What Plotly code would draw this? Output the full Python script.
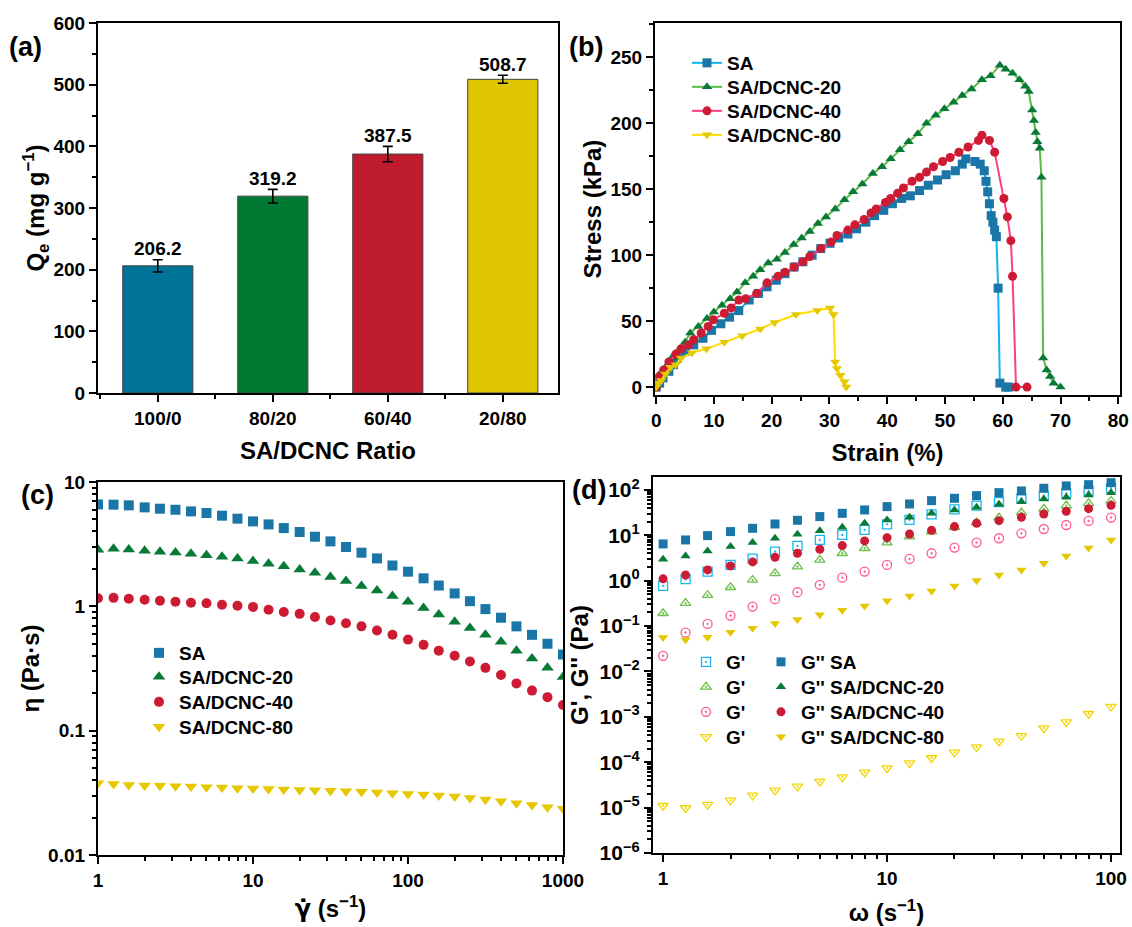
import plotly.graph_objects as go

FONT = "Liberation Sans"
W, H = 1132, 927

# ---------------- (a) adsorption capacity ----------------
ratio_labels = ["100/0", "80/20", "60/40", "20/80"]
qe_values = [206.2, 319.2, 387.5, 508.7]
qe_errors = [10, 11, 12.5, 6.5]
bar_colors = ["#007399", "#007A33", "#BE1B2D", "#DEC600"]

# ---------------- (b) stress-strain ----------------
series_names = ["SA", "SA/DCNC-20", "SA/DCNC-40", "SA/DCNC-80"]

strain_sa = [0, 0.6, 1.2, 2.2, 3.0, 3.7, 5.0, 6.5, 8.1, 9.6, 11.2, 12.7, 14.3, 16.1, 17.7, 19.2, 20.8, 22.3,
             23.9, 25.4, 27.0, 28.5, 30.1, 31.6, 33.2, 34.7, 36.3, 37.8, 39.4, 40.9, 42.5, 44.0, 45.6, 47.1,
             48.7, 50.2, 51.8, 53.0, 53.6, 55.2, 56.1, 56.8, 57.1, 57.4, 57.7, 58.0, 58.3, 58.6, 58.9, 59.2,
             59.5, 60.5, 61.0]
stress_sa = [0, 3, 7, 12, 17, 22, 27, 32, 37, 43, 48, 53, 58, 66, 71, 76, 81, 86, 91, 95, 100, 105, 109,
             113, 116, 120, 125, 130, 134, 139, 143, 145, 149, 153, 157, 161, 164, 169, 173, 171, 169, 164,
             156, 148, 139, 130, 125, 119, 114, 75, 3, 0, 0]

strain_20 = [0, 0.4, 1.6, 2.7, 3.9, 5.0, 5.9, 7.3, 8.8, 10.0, 11.4, 12.8, 14.0, 15.4, 16.8, 18.0, 19.4, 20.9,
             22.3, 23.8, 25.2, 26.6, 28.0, 29.4, 31.0, 32.6, 34.1, 35.7, 37.5, 39.1, 40.6, 42.2, 43.7, 45.3,
             46.8, 48.4, 49.9, 51.5, 53.0, 54.6, 56.4, 57.9, 59.5, 60.5, 61.7, 62.9, 63.9, 64.5, 65.1, 65.4,
             65.7, 66.0, 66.4, 66.7, 67.0, 67.6, 68.2, 68.8, 70.0]
stress_20 = [0, 9, 15, 22, 28, 34, 41, 46, 52, 57, 62, 67, 72, 79, 84, 89, 94, 97, 102, 108, 113, 118, 124,
             129, 135, 142, 148, 154, 162, 167, 173, 180, 186, 192, 200, 206, 211, 216, 221, 226, 233, 236,
             244, 241, 238, 233, 228, 224, 210, 202, 193, 186, 181, 159, 22, 13, 8, 3, 0]

strain_40 = [0, 0.6, 1.3, 2.2, 3.4, 4.3, 5.6, 6.5, 7.8, 9.0, 9.9, 11.8, 13.0, 14.3, 15.5, 17.4, 19.2, 21.1,
             22.3, 23.9, 25.4, 26.6, 28.5, 30.3, 31.3, 33.2, 34.4, 36.0, 37.2, 38.1, 39.7, 40.6, 41.8, 42.8,
             44.3, 45.6, 46.8, 48.0, 49.6, 50.9, 52.4, 54.0, 55.8, 56.4, 57.7, 58.6, 60.2, 60.8, 61.4, 61.7,
             62.3, 64.2]
stress_40 = [0, 8, 13, 19, 25, 29, 32, 36, 41, 46, 51, 56, 60, 66, 67, 71, 79, 84, 87, 91, 95, 99, 105, 110,
             115, 119, 123, 127, 132, 135, 140, 143, 147, 151, 156, 159, 163, 167, 171, 174, 178, 182, 187,
             191, 187, 178, 143, 129, 111, 84, 0, 0]

strain_80 = [0, 0.3, 0.9, 1.6, 2.5, 3.4, 4.3, 6.2, 8.7, 11.8, 14.9, 18.0, 20.5, 24.2, 27.9, 30.1, 30.7, 31.0,
             31.3, 31.9, 32.6, 32.9]
stress_80 = [0, 3, 5, 10, 15, 17, 22, 26, 29, 34, 39, 44, 49, 55, 58, 60, 55, 19, 14, 9, 4, 0]

# ---------------- (c) viscosity vs shear rate ----------------
shear_rate = [1, 1.26, 1.58, 2, 2.51, 3.16, 3.98, 5.01, 6.31, 7.94, 10, 12.6, 15.8, 20, 25.1, 31.6, 39.8,
              50.1, 63.1, 79.4, 100, 126, 158, 200, 251, 316, 398, 501, 631, 794, 1000]
eta_sa = [6.6, 6.57, 6.49, 6.25, 6.10, 5.98, 5.80, 5.63, 5.36, 5.07, 4.82, 4.56, 4.26, 3.96, 3.63, 3.33,
          3.00, 2.70, 2.43, 2.13, 1.90, 1.68, 1.47, 1.27, 1.10, 0.95, 0.81, 0.69, 0.59, 0.50, 0.41]
eta_20 = [2.85, 2.90, 2.87, 2.80, 2.75, 2.71, 2.65, 2.57, 2.51, 2.42, 2.31, 2.20, 2.10, 1.98, 1.86, 1.72,
          1.60, 1.46, 1.34, 1.21, 1.09, 0.97, 0.86, 0.75, 0.67, 0.59, 0.52, 0.44, 0.38, 0.32, 0.27]
eta_40 = [1.16, 1.17, 1.15, 1.13, 1.11, 1.09, 1.07, 1.06, 1.03, 1.01, 0.99, 0.94, 0.90, 0.87, 0.82, 0.77,
          0.73, 0.69, 0.64, 0.59, 0.54, 0.49, 0.44, 0.40, 0.36, 0.32, 0.28, 0.24, 0.21, 0.186, 0.161]
eta_80 = [0.0378, 0.0373, 0.0366, 0.0362, 0.0360, 0.0357, 0.0355, 0.0351, 0.0349, 0.0344, 0.0342, 0.0340,
          0.0336, 0.0334, 0.0332, 0.0328, 0.0326, 0.0322, 0.0318, 0.0314, 0.0310, 0.0306, 0.0301, 0.0295,
          0.0288, 0.0279, 0.0271, 0.0261, 0.0253, 0.0242, 0.0235]

# ---------------- (d) moduli vs angular frequency ----------------
omega = [1, 1.26, 1.58, 2, 2.51, 3.16, 3.98, 5.01, 6.31, 7.94, 10, 12.6, 15.8, 20, 25.1, 31.6, 39.8, 50.1,
         63.1, 79.4, 100]
g1_sa = [0.77, 1.08, 1.59, 2.23, 3.08, 4.39, 5.85, 7.93, 10.2, 13.2, 17.5, 21.9, 29.1, 37.5, 45.2, 54.4,
         65.6, 73.8, 84.5, 95, 110]
g2_sa = [6.47, 7.92, 9.87, 12.1, 14.3, 17.8, 21.5, 25.9, 30.6, 36.3, 43.0, 49.2, 58.2, 65.6, 75.1, 87.3,
         95.1, 109, 123, 131, 145]
g1_20 = [0.192, 0.320, 0.480, 0.719, 1.04, 1.46, 2.05, 2.88, 4.03, 5.20, 6.92, 9.38, 12.1, 15.1, 19.1, 24.6,
         31.7, 38.2, 45.2, 50.9, 57.3]
g2_20 = [2.97, 3.52, 4.54, 5.65, 6.92, 8.63, 10.6, 12.7, 15.1, 18.5, 21.9, 25.0, 30.6, 36.3, 41.5, 48.3,
         55.3, 63.4, 69.0, 77.6, 87.4]
g1_40 = [0.0221, 0.0722, 0.112, 0.171, 0.270, 0.392, 0.558, 0.809, 1.17, 1.59, 2.23, 3.03, 4.03, 5.37, 6.92,
         8.63, 11.1, 13.8, 16.9, 20.8, 24.6]
g2_40 = [1.10, 1.34, 1.73, 2.12, 2.60, 3.29, 4.03, 4.94, 5.95, 7.54, 8.91, 10.7, 12.9, 15.6, 18.5, 21.1, 25.0,
         29.6, 33.9, 38.8, 45.9]
g1_80 = [1.10e-5, 9.8e-6, 1.16e-5, 1.44e-5, 1.86e-5, 2.40e-5, 2.94e-5, 3.78e-5, 4.71e-5, 5.97e-5, 7.44e-5,
         9.59e-5, 1.24e-4, 1.65e-4, 2.16e-4, 2.88e-4, 3.83e-4, 5.65e-4, 7.66e-4, 1.17e-3, 1.69e-3]
g2_80 = [0.0561, 0.0498, 0.0570, 0.0735, 0.0900, 0.114, 0.140, 0.177, 0.224, 0.279, 0.360, 0.463, 0.597,
         0.769, 1.01, 1.34, 1.73, 2.43, 3.52, 5.29, 7.93]

# ---------------- styles ----------------
marker_colors = ["#1B76A8", "#087A36", "#CC1B33", "#E5C800"]
line_colors = ["#10B4EE", "#5CB947", "#FF3D7F", "#FFDD00"]
open_colors = ["#19B5F0", "#6CC04A", "#FF5C8A", "#F2D600"]
symbols = ["square", "triangle-up", "circle", "triangle-down"]
open_symbols = ["square-open-dot", "triangle-up-open-dot", "circle-open-dot", "triangle-down-open-dot"]

# legend row centres (px) for each panel
rows_b = [63, 87, 111, 135]
rows_c = [653, 677, 702, 727]
rows_d = [662, 687, 712, 737]


def dx(px):
    return px / W


def dy(py):
    return 1 - py / H


fig = go.Figure()
legend_layouts = {}
legend_count = [0]
LEG_FONT = dict(family=FONT, size=19, color="black", weight="bold")


def new_legend(text_px, row_py):
    legend_count[0] += 1
    n = legend_count[0]
    key = "legend" if n == 1 else "legend%d" % n
    legend_layouts[key] = dict(x=dx(text_px - 40), y=dy(row_py), xanchor="left", yanchor="middle",
                               bgcolor="rgba(0,0,0,0)", borderwidth=0, font=LEG_FONT)
    return key


# (a) bars
idx = list(range(len(ratio_labels)))
fig.add_trace(go.Bar(
    x=idx, y=qe_values, width=0.61,
    marker=dict(color=bar_colors, line=dict(color="#444444", width=1)),
    error_y=dict(type="data", array=qe_errors, color="black", thickness=1.6, width=5),
    showlegend=False, xaxis="x", yaxis="y"))
fig.add_trace(go.Scatter(
    x=idx, y=[v + e for v, e in zip(qe_values, qe_errors)],
    text=[str(v) for v in qe_values], mode="text", textposition="top center",
    textfont=dict(family=FONT, size=19, color="black", weight="bold"),
    cliponaxis=False, showlegend=False, xaxis="x", yaxis="y"))

# (b) stress-strain
b_data = [(strain_sa, stress_sa), (strain_20, stress_20), (strain_40, stress_40), (strain_80, stress_80)]
for i, (sx, sy) in enumerate(b_data):
    fig.add_trace(go.Scatter(
        x=sx, y=sy, name=series_names[i], mode="lines+markers",
        line=dict(color=line_colors[i], width=2),
        marker=dict(symbol=symbols[i], color=marker_colors[i], size=9),
        xaxis="x2", yaxis="y2", legend=new_legend(727, rows_b[i])))

# (c) viscosity
c_data = [eta_sa, eta_20, eta_40, eta_80]
for i, ey in enumerate(c_data):
    fig.add_trace(go.Scatter(
        x=shear_rate, y=ey, name=series_names[i], mode="markers",
        marker=dict(symbol=symbols[i], color=marker_colors[i], size=11 if i in (1, 3) else 10),
        xaxis="x3", yaxis="y3", legend=new_legend(179, rows_c[i])))

# (d) moduli
g1_list = [g1_sa, g1_20, g1_40, g1_80]
g2_list = [g2_sa, g2_20, g2_40, g2_80]
for i in range(4):
    fig.add_trace(go.Scatter(
        x=omega, y=g1_list[i], name="G'", mode="markers",
        marker=dict(symbol=open_symbols[i], color=open_colors[i], size=9,
                    line=dict(width=1.3, color=open_colors[i])),
        xaxis="x4", yaxis="y4", legend=new_legend(726, rows_d[i])))
for i in range(4):
    fig.add_trace(go.Scatter(
        x=omega, y=g2_list[i], name="G'' " + series_names[i], mode="markers",
        marker=dict(symbol=symbols[i], color=marker_colors[i], size=9),
        xaxis="x4", yaxis="y4", legend=new_legend(801, rows_d[i])))

tickfont = dict(family=FONT, size=19, color="black", weight="bold")
titlefont = dict(family=FONT, size=24, color="black", weight="bold")
common = dict(showline=True, linecolor="black", linewidth=2.2, mirror=True, ticks="outside",
              ticklen=7, tickwidth=2, tickcolor="black", showgrid=False, zeroline=False,
              automargin=False)
minor_style = dict(ticks="outside", ticklen=4, tickwidth=1.5, tickcolor="black")

minor_log_y4 = [m * 10.0 ** k for k in range(-6, 3) for m in range(2, 10)]

fig.update_layout(
    width=W, height=H, margin=dict(l=0, r=0, t=0, b=0),
    paper_bgcolor="white", plot_bgcolor="white",
    font=dict(family=FONT, color="black"),
    xaxis=dict(domain=[dx(98), dx(558)], anchor="y", range=[-0.52, 3.48],
               tickmode="array", tickvals=idx, ticktext=ratio_labels, tickfont=tickfont,
               minor=dict(tick0=0.5, dtick=1, **minor_style),
               title=dict(text="SA/DCNC Ratio", font=titlefont, standoff=14), **common),
    yaxis=dict(domain=[dy(393), dy(23)], anchor="x", range=[0, 600], dtick=100, tickfont=tickfont,
               minor=dict(dtick=50, **minor_style),
               title=dict(text="Q<sub>e</sub> (mg g<sup>−1</sup>)", font=titlefont, standoff=0), **common),
    xaxis2=dict(domain=[dx(655), dx(1120)], anchor="y2", range=[-0.2, 80.3], dtick=10, tickfont=tickfont,
                minor=dict(dtick=5, **minor_style),
                title=dict(text="Strain (%)", font=titlefont, standoff=14), **common),
    yaxis2=dict(domain=[dy(395), dy(23)], anchor="x2", range=[-6, 276], dtick=50, tickfont=tickfont,
                minor=dict(dtick=25, **minor_style),
                title=dict(text="Stress (kPa)", font=titlefont, standoff=2), **common),
    xaxis3=dict(domain=[dx(98), dx(563)], anchor="y3", type="log", range=[0, 3], dtick=1, tickfont=tickfont,
                minor=dict(dtick="D1", **minor_style),
                title=dict(text="<span style='font-family:DejaVu Sans'>γ̇</span> (s<sup>−1</sup>)",
                           font=titlefont, standoff=10), **common),
    yaxis3=dict(domain=[dy(855), dy(482)], anchor="x3", type="log", range=[-2, 1], dtick=1, tickfont=tickfont,
                minor=dict(dtick="D1", **minor_style),
                title=dict(text="η (Pa·s)", font=titlefont, standoff=2), **common),
    xaxis4=dict(domain=[dx(653), dx(1120)], anchor="y4", type="log", range=[-0.045, 2.04], dtick=1,
                tickfont=tickfont, minor=dict(dtick="D1", **minor_style),
                title=dict(text="ω (s<sup>−1</sup>)", font=titlefont, standoff=16), **common),
    yaxis4=dict(domain=[dy(853), dy(477)], anchor="x4", type="log", range=[-6, 2.286],
                tickmode="array", tickvals=[10.0 ** k for k in range(-6, 3)],
                ticktext=["10<sup>" + ("−" + str(-k) if k < 0 else str(k)) + "</sup>" for k in range(-6, 3)],
                tickfont=dict(family=FONT, size=21, color="black", weight="bold"),
                minor=dict(tickmode="array", tickvals=minor_log_y4, **minor_style),
                title=dict(text="G', G'' (Pa)", font=titlefont, standoff=4), **common),
    **legend_layouts,
)

panel_labels = [("(a)", 25, 47), ("(b)", 586, 47), ("(c)", 37, 495), ("(d)", 589, 490)]
for txt, px, py in panel_labels:
    fig.add_annotation(text=txt, x=dx(px), y=dy(py), xref="paper", yref="paper", showarrow=False,
                       xanchor="center", yanchor="middle",
                       font=dict(family=FONT, size=27, color="black", weight="bold"))

fig.write_html("out.html", config={"displayModeBar": False},
               post_script="document.body.style.margin='0px';")
